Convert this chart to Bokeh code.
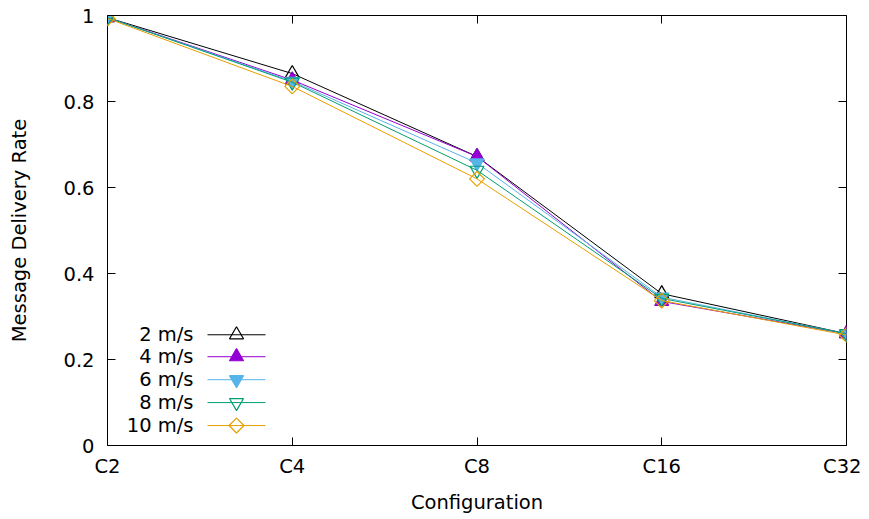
import math
from bokeh.plotting import figure
from bokeh.models import FixedTicker, NumeralTickFormatter, LinearAxis, Range1d, CustomJSTickFormatter
from bokeh.embed import file_html
from bokeh.resources import INLINE
from bokeh.core.properties import value

configs = ["C2", "C4", "C8", "C16", "C32"]
speeds = ["2 m/s", "4 m/s", "6 m/s", "8 m/s", "10 m/s"]
rate_2 = [0.995, 0.865, 0.672, 0.353, 0.260]
rate_4 = [0.995, 0.850, 0.672, 0.335, 0.260]
rate_6 = [0.995, 0.847, 0.657, 0.345, 0.260]
rate_8 = [0.995, 0.845, 0.640, 0.342, 0.260]
rate_10 = [0.993, 0.835, 0.620, 0.337, 0.257]
y_ticks = [0, 0.2, 0.4, 0.6, 0.8, 1.0]

series = [rate_2, rate_4, rate_6, rate_8, rate_10]
colors = ["#000000", "#9400d3", "#56b4e9", "#009e73", "#e69f00"]
markers = ["triangle", "triangle", "inverted_triangle", "inverted_triangle", "square"]
msizes = [14, 14, 14, 14, 10.5]
mangles = [0, 0, 0, 0, math.pi / 4]
fills = [False, True, True, False, False]

FONT = "DejaVu Sans"
FS = "19.5px"
W, H = 861, 516
L, R, T, B = 107, 15, 15, 70

p = figure(width=W, height=H, output_backend="svg", toolbar_location=None,
           x_range=Range1d(0, 4), y_range=Range1d(0, 1),
           min_border_left=L, min_border_right=R, min_border_top=T, min_border_bottom=B,
           x_axis_label="Configuration", y_axis_label="Message Delivery Rate")
p.grid.visible = False
p.outline_line_color = "black"
p.outline_line_width = 1
p.background_fill_color = "white"
p.border_fill_color = "white"

xs = list(range(len(configs)))

for ax in p.xaxis:
    ax.ticker = FixedTicker(ticks=xs)
    ax.major_label_overrides = {i: c for i, c in enumerate(configs)}
for ax in p.yaxis:
    ax.ticker = FixedTicker(ticks=y_ticks)
    ax.formatter = NumeralTickFormatter(format="0.[0]")

for ax in list(p.xaxis) + list(p.yaxis):
    ax.major_tick_in = 8
    ax.major_tick_out = 0
    ax.minor_tick_line_color = None
    ax.axis_line_color = None
    ax.major_tick_line_color = "black"
    ax.major_label_text_font = FONT
    ax.major_label_text_font_size = FS
    ax.major_label_text_color = "black"
    ax.axis_label_text_font = FONT
    ax.axis_label_text_font_size = FS
    ax.axis_label_text_font_style = "normal"
    ax.axis_label_text_color = "black"
p.xaxis.major_label_standoff = 9
p.yaxis.major_label_standoff = 13
p.xaxis.axis_label_standoff = 10
p.yaxis.axis_label_standoff = 29

blank = CustomJSTickFormatter(code="return '';")
top = LinearAxis(ticker=FixedTicker(ticks=xs), formatter=blank, major_tick_in=8, major_tick_out=0,
                 minor_tick_line_color=None, axis_line_color=None, major_label_standoff=0)
right = LinearAxis(ticker=FixedTicker(ticks=y_ticks), formatter=blank, major_tick_in=8, major_tick_out=0,
                   minor_tick_line_color=None, axis_line_color=None, major_label_standoff=0)
p.add_layout(top, "above")
p.add_layout(right, "right")

for vals, col, mk, ms, ma, fl in zip(series, colors, markers, msizes, mangles, fills):
    p.line(xs, vals, line_color=col, line_width=1)
    p.scatter(xs, vals, marker=mk, size=ms, angle=ma, line_color=col, line_width=1.2,
              fill_color=col if fl else None)

# gnuplot-style key (label, then sample line with marker)
key_y = [0.2575, 0.2065, 0.153, 0.0998, 0.0464]
px_per_x = 739 / 4.0
lab_x = (193 - 107) / px_per_x
l0 = (207 - 107) / px_per_x
l1 = (265 - 107) / px_per_x
mx = (236 - 107) / px_per_x
for name, col, mk, ms, ma, fl, ky in zip(speeds, colors, markers, msizes, mangles, fills, key_y):
    p.line([l0, l1], [ky, ky], line_color=col, line_width=1)
    p.scatter([mx], [ky], marker=mk, size=ms, angle=ma, line_color=col, line_width=1.2,
              fill_color=col if fl else None)
    p.text([lab_x], [ky], text=[name], text_align="right", text_baseline="middle",
           text_font=value(FONT), text_font_size=FS, text_color="black")

open("out.html", "w").write(file_html(p, INLINE))
